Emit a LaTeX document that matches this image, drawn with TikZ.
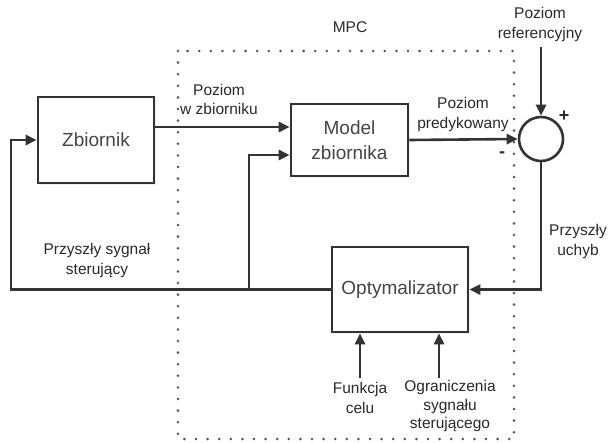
\documentclass[tikz,border=0pt]{standalone}
\usepackage{fontspec}
\setmainfont{Liberation Sans}
\usetikzlibrary{arrows.meta,shadows,calc}
\definecolor{ln}{HTML}{333333}
\definecolor{tx}{HTML}{2A2A2A}
\definecolor{bx}{HTML}{454545}
\definecolor{dt}{HTML}{505050}
\begin{document}
\begin{tikzpicture}[x=1pt,y=-1pt,
  blk/.style={draw=ln,line width=2.6pt,fill=white,inner sep=0pt,align=center,text=bx,
    font=\fontsize{19}{25}\selectfont,
    drop shadow={opacity=0.12,shadow xshift=1.5pt,shadow yshift=-2pt}},
  lbl/.style={text=tx,align=center,inner sep=0pt,font=\fontsize{15.5}{19.5}\selectfont},
  conn/.style={draw=ln,line width=2.6pt,-{Triangle[length=11pt,width=10pt]}},
  dotbox/.style={draw=dt,line width=2.8pt,line cap=round,dash pattern=on 0pt off 11.6pt}]
\useasboundingbox (0,0) rectangle (609,442);
\fill[white] (0,0) rectangle (609,442);
% MPC dotted frame
\draw[dotbox] (178,51) rectangle (514,439);
% blocks
\node[blk,minimum width=116pt,minimum height=86pt] (zb) at (96,140) {Zbiornik};
\node[blk,minimum width=117pt,minimum height=72pt] (model) at (349.5,140) {Model\\zbiornika};
\node[draw=ln,line width=2.6pt,fill=white,circle,minimum size=44pt,inner sep=0pt] (sum) at (541,139) {};
\node[blk,minimum width=136pt,minimum height=85pt] (opt) at (400,289.5) {Optymalizator};
% coordinates
\coordinate (fbL) at (11,289.5);
\coordinate (jn) at (249,289.5);
\coordinate (refTop) at (541,47);
\coordinate (fc) at (360,378);
\coordinate (og) at (439,378);
% connectors
\draw[conn] ([yshift=13pt]zb.east) -- ([yshift=13pt]model.west);
\draw[conn] (model.east) -- (sum.west);
\draw[conn] (refTop) -- (sum.north);
\draw[conn] (sum.south) |- (opt.east);
\draw[conn] (opt.west) -- (fbL) |- (zb.west);
\draw[conn] (jn) |- ([yshift=-15pt]model.west);
\draw[conn] (fc) -- (fc |- opt.south);
\draw[conn] (og) -- (og |- opt.south);
% labels
\node[lbl] (lmpc) at (350,27) {MPC};
\node[lbl] (lref) at (540,24.5) {Poziom\\referencyjny};
\node[lbl] (lpred) at (463,114.5) {Poziom\\predykowany};
\node[lbl] (lpoz) at (219,99.5) {Poziom\\w zbiorniku};
\node[lbl] (lsyg) at (97,260.5) {Przyszły sygnał\\sterujący};
\node[lbl] (luch) at (578,241.5) {Przyszły\\uchyb};
\node[lbl] (lfun) at (360,398) {Funkcja\\celu};
\node[lbl,font=\fontsize{15.5}{18.5}\selectfont] (logr) at (450,406) {Ograniczenia\\sygnału\\sterującego};
\node[text=tx,inner sep=0pt,font=\fontsize{18}{20}\selectfont\bfseries] (plus) at (564,116) {+};
\node[text=tx,inner sep=0pt,font=\fontsize{18}{20}\selectfont\bfseries] (minus) at (502,155) {-};
\end{tikzpicture}
\end{document}
